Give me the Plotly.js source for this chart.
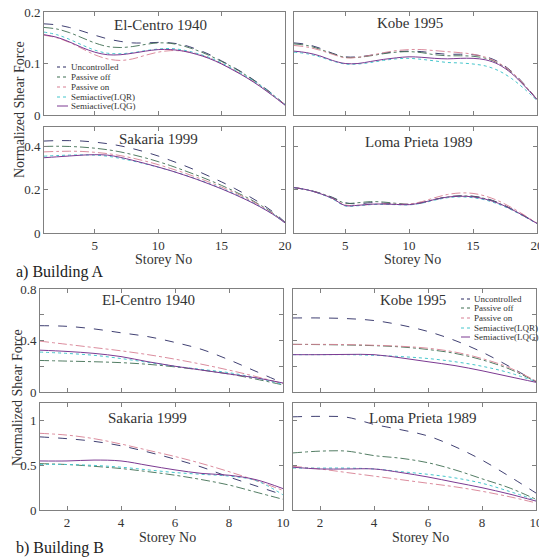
<!DOCTYPE html>
<html><head><meta charset="utf-8">
<script src="https://cdn.plot.ly/plotly-3.0.1.min.js"></script>
<style>html,body{margin:0;padding:0;background:#fff}#chart{width:539px;height:557px}</style>
</head><body><div id="chart"></div><script>
// ---------- data ----------
const seriesNames = ['Uncontrolled','Passive off','Passive on','Semiactive(LQR)','Semiactive(LQG)'];
const storeysA = [1,2,3,4,5,6,7,8,9,10,11,12,13,14,15,16,17,18,19,20];
const storeysB = [1,2,3,4,5,6,7,8,9,10];
const xTicksA = [5,10,15,20];
const xTicksB = [2,4,6,8,10];
const panelTitles = ['El-Centro 1940','Kobe 1995','Sakaria 1999','Loma Prieta 1989'];

// Building A (20 storeys) - order: Uncontrolled, Passive off, Passive on, LQR, LQG
const aElCentroUnc  = [0.177,0.175,0.170,0.163,0.155,0.148,0.143,0.140,0.140,0.141,0.140,0.136,0.128,0.118,0.105,0.092,0.077,0.060,0.041,0.020];
const aElCentroPoff = [0.170,0.167,0.160,0.150,0.140,0.133,0.131,0.133,0.137,0.140,0.139,0.134,0.126,0.116,0.104,0.091,0.076,0.059,0.040,0.020];
const aElCentroPon  = [0.155,0.150,0.141,0.129,0.117,0.109,0.106,0.109,0.116,0.122,0.125,0.124,0.119,0.111,0.100,0.087,0.073,0.057,0.039,0.020];
const aElCentroLQR  = [0.161,0.156,0.147,0.136,0.126,0.120,0.119,0.121,0.125,0.128,0.129,0.126,0.120,0.112,0.101,0.088,0.074,0.058,0.040,0.020];
const aElCentroLQG  = [0.156,0.151,0.142,0.131,0.122,0.117,0.117,0.120,0.124,0.127,0.127,0.124,0.118,0.110,0.099,0.086,0.072,0.056,0.038,0.019];

const aKobeUnc  = [0.140,0.137,0.130,0.120,0.113,0.113,0.116,0.120,0.123,0.124,0.123,0.120,0.118,0.118,0.117,0.113,0.103,0.085,0.060,0.030];
const aKobePoff = [0.138,0.135,0.128,0.119,0.112,0.112,0.115,0.119,0.122,0.123,0.121,0.117,0.115,0.115,0.114,0.110,0.100,0.083,0.058,0.030];
const aKobePon  = [0.135,0.132,0.126,0.118,0.111,0.112,0.116,0.121,0.125,0.127,0.127,0.125,0.123,0.121,0.118,0.112,0.101,0.084,0.059,0.030];
const aKobeLQR  = [0.122,0.119,0.113,0.105,0.099,0.099,0.102,0.106,0.109,0.110,0.108,0.105,0.102,0.101,0.099,0.095,0.086,0.071,0.051,0.028];
const aKobeLQG  = [0.124,0.121,0.115,0.106,0.100,0.100,0.104,0.108,0.111,0.113,0.112,0.110,0.109,0.110,0.110,0.107,0.098,0.081,0.057,0.030];

const aSakariaUnc  = [0.425,0.427,0.427,0.425,0.420,0.413,0.403,0.390,0.374,0.356,0.335,0.313,0.289,0.263,0.236,0.207,0.175,0.140,0.100,0.050];
const aSakariaPoff = [0.400,0.401,0.400,0.397,0.392,0.385,0.375,0.362,0.347,0.330,0.311,0.290,0.268,0.245,0.220,0.193,0.164,0.131,0.094,0.048];
const aSakariaPon  = [0.375,0.377,0.378,0.377,0.373,0.367,0.358,0.346,0.332,0.316,0.298,0.279,0.258,0.236,0.212,0.187,0.159,0.128,0.092,0.048];
const aSakariaLQR  = [0.355,0.358,0.360,0.361,0.360,0.355,0.345,0.333,0.319,0.304,0.288,0.270,0.250,0.229,0.206,0.181,0.154,0.124,0.090,0.047];
const aSakariaLQG  = [0.348,0.352,0.356,0.360,0.362,0.360,0.350,0.336,0.321,0.305,0.288,0.269,0.249,0.227,0.204,0.179,0.152,0.122,0.088,0.047];

const aLomaUnc  = [0.210,0.200,0.185,0.165,0.140,0.135,0.140,0.138,0.135,0.133,0.140,0.155,0.167,0.172,0.170,0.160,0.140,0.112,0.080,0.045];
const aLomaPoff = [0.210,0.200,0.185,0.163,0.138,0.140,0.145,0.143,0.137,0.132,0.140,0.155,0.166,0.171,0.169,0.158,0.138,0.110,0.078,0.045];
const aLomaPon  = [0.210,0.200,0.183,0.160,0.130,0.128,0.132,0.134,0.133,0.134,0.145,0.163,0.178,0.185,0.183,0.170,0.148,0.118,0.083,0.045];
const aLomaLQR  = [0.210,0.200,0.182,0.158,0.125,0.126,0.131,0.132,0.131,0.130,0.138,0.152,0.163,0.167,0.163,0.152,0.133,0.107,0.076,0.043];
const aLomaLQG  = [0.210,0.200,0.183,0.160,0.127,0.128,0.133,0.134,0.132,0.131,0.140,0.155,0.166,0.170,0.167,0.156,0.137,0.110,0.078,0.044];

// Building B (10 storeys)
const bElCentroUnc  = [0.515,0.510,0.490,0.460,0.430,0.385,0.330,0.250,0.160,0.070];
const bElCentroPoff = [0.245,0.240,0.235,0.228,0.215,0.195,0.170,0.140,0.100,0.055];
const bElCentroPon  = [0.395,0.370,0.345,0.320,0.290,0.255,0.215,0.170,0.120,0.065];
const bElCentroLQR  = [0.310,0.300,0.285,0.260,0.230,0.200,0.175,0.150,0.110,0.060];
const bElCentroLQG  = [0.325,0.315,0.300,0.275,0.235,0.200,0.170,0.140,0.110,0.070];

const bKobeUnc  = [0.575,0.575,0.570,0.555,0.520,0.470,0.400,0.310,0.200,0.080];
const bKobePoff = [0.370,0.368,0.365,0.360,0.350,0.330,0.300,0.250,0.180,0.080];
const bKobePon  = [0.370,0.370,0.368,0.363,0.355,0.340,0.310,0.260,0.190,0.085];
const bKobeLQR  = [0.290,0.290,0.290,0.285,0.275,0.260,0.235,0.200,0.150,0.080];
const bKobeLQG  = [0.290,0.290,0.292,0.290,0.265,0.235,0.205,0.165,0.120,0.075];

const bSakariaUnc  = [0.820,0.800,0.770,0.720,0.650,0.570,0.480,0.370,0.270,0.170];
const bSakariaPoff = [0.520,0.510,0.490,0.465,0.430,0.390,0.340,0.280,0.200,0.120];
const bSakariaPon  = [0.860,0.840,0.800,0.740,0.670,0.600,0.520,0.430,0.330,0.220];
const bSakariaLQR  = [0.510,0.510,0.500,0.480,0.450,0.420,0.400,0.380,0.330,0.170];
const bSakariaLQG  = [0.550,0.550,0.560,0.550,0.500,0.450,0.410,0.390,0.340,0.240];

const bLomaUnc  = [1.045,1.050,1.040,0.960,0.900,0.830,0.710,0.560,0.380,0.190];
const bLomaPoff = [0.640,0.660,0.660,0.610,0.580,0.530,0.450,0.350,0.250,0.120];
const bLomaPon  = [0.490,0.460,0.420,0.380,0.340,0.300,0.260,0.210,0.150,0.080];
const bLomaLQR  = [0.470,0.470,0.470,0.460,0.430,0.400,0.360,0.300,0.210,0.110];
const bLomaLQG  = [0.480,0.460,0.460,0.460,0.420,0.370,0.310,0.250,0.180,0.100];

// ---------- styling ----------
const W = 539, H = 557;
const PX = p => p / W;
const PY = p => 1 - p / H;
const SERIF = 'Liberation Serif';
const styles = [
  {color:'#2a2a62', dash:'dash',    width:0.9},
  {color:'#3f6e52', dash:'dashdot', width:0.9},
  {color:'#d77f92', dash:'dashdot', width:0.9},
  {color:'#45c6cc', dash:'dot',     width:1},
  {color:'#7c3a92', dash:'solid',   width:1}
];

const panels = [
  {ax:'', data:[aElCentroUnc,aElCentroPoff,aElCentroPon,aElCentroLQR,aElCentroLQG], x:storeysA, title:panelTitles[0], tx:160, ty:25},
  {ax:'2',data:[aKobeUnc,aKobePoff,aKobePon,aKobeLQR,aKobeLQG], x:storeysA, title:panelTitles[1], tx:410, ty:23},
  {ax:'3',data:[aSakariaUnc,aSakariaPoff,aSakariaPon,aSakariaLQR,aSakariaLQG], x:storeysA, title:panelTitles[2], tx:158, ty:139},
  {ax:'4',data:[aLomaUnc,aLomaPoff,aLomaPon,aLomaLQR,aLomaLQG], x:storeysA, title:panelTitles[3], tx:418, ty:142},
  {ax:'5',data:[bElCentroUnc,bElCentroPoff,bElCentroPon,bElCentroLQR,bElCentroLQG], x:storeysB, title:panelTitles[0], tx:148, ty:300},
  {ax:'6',data:[bKobeUnc,bKobePoff,bKobePon,bKobeLQR,bKobeLQG], x:storeysB, title:panelTitles[1], tx:413, ty:300},
  {ax:'7',data:[bSakariaUnc,bSakariaPoff,bSakariaPon,bSakariaLQR,bSakariaLQG], x:storeysB, title:panelTitles[2], tx:147, ty:418},
  {ax:'8',data:[bLomaUnc,bLomaPoff,bLomaPon,bLomaLQR,bLomaLQG], x:storeysB, title:panelTitles[3], tx:422, ty:418}
];

const traces = [];
panels.forEach(p => {
  p.data.forEach((ys, i) => {
    traces.push({
      type:'scatter', mode:'lines', x:p.x, y:ys, name:seriesNames[i],
      xaxis:'x'+p.ax, yaxis:'y'+p.ax, showlegend:false,
      line:{color:styles[i].color, dash:styles[i].dash, width:styles[i].width, shape:'spline', smoothing:1}
    });
  });
});

const baseAxis = {
  showline:true, linecolor:'#808080', linewidth:1, mirror:'ticks',
  ticks:'inside', ticklen:4, tickcolor:'#808080', tickwidth:1,
  showgrid:false, zeroline:false, fixedrange:true, ticklabeloverflow:'allow',
  tickfont:{family:SERIF, size:13, color:'#333'}
};
const colsA = [[44,285],[294,537]], colsB = [[40,283],[293,536]];
const rowsA = [[12,115],[127,233]], rowsB = [[289,392],[403,510]];
const yRanges = [[0,0.2],[0,0.49],[0,0.8],[0,1.2]];
const yTicks = [
  {v:[0,0.1,0.2], t:['0','0.1','0.2']},
  {v:[0,0.2,0.4], t:['0','0.2','0.4']},
  {v:[0,0.2,0.4,0.6,0.8], t:['0','','0.4','','0.8']},
  {v:[0,0.5,1], t:['0','0.5','1']}
];

const layout = {
  width:W, height:H, margin:{l:0,r:0,t:0,b:0},
  paper_bgcolor:'#fff', plot_bgcolor:'#fff', showlegend:false,
  font:{family:SERIF, color:'#333'},
  annotations:[], shapes:[]
};

panels.forEach((p, k) => {
  const group = k < 4 ? 0 : 1;
  const col = k % 2, row = Math.floor((k % 4) / 2);
  const cols = group ? colsB : colsA, rows = group ? rowsB : rowsA;
  const yr = group*2 + row;
  const xName = 'xaxis' + p.ax, yName = 'yaxis' + p.ax;
  layout[xName] = Object.assign({}, baseAxis, {
    domain:[PX(cols[col][0]), PX(cols[col][1])],
    range: group ? [1,10] : [1,20],
    tickvals: group ? xTicksB : xTicksA,
    showticklabels: row === 1,
    anchor:'y'+p.ax
  });
  layout[yName] = Object.assign({}, baseAxis, {
    domain:[PY(rows[row][1]), PY(rows[row][0])],
    range: yRanges[yr],
    tickvals: yTicks[yr].v, ticktext: yTicks[yr].t,
    showticklabels: col === 0,
    anchor:'x'+p.ax
  });
  layout.annotations.push({
    text:p.title, x:PX(p.tx), y:PY(p.ty), xref:'paper', yref:'paper',
    showarrow:false, xanchor:'center', yanchor:'middle',
    font:{family:SERIF, size:15, color:'#333'}
  });
});

// axis titles & group labels
const txt = (t, x, y, opts) => layout.annotations.push(Object.assign({
  text:t, x:PX(x), y:PY(y), xref:'paper', yref:'paper', showarrow:false,
  xanchor:'center', yanchor:'middle', font:{family:SERIF, size:14, color:'#333'}
}, opts||{}));
txt('Storey No', 163, 259);
txt('Storey No', 412, 259);
txt('Storey No', 167, 537);
txt('Storey No', 420, 537);
txt('Normalized Shear Force', 19, 110, {textangle:-90});
txt('Normalized Shear Force', 17, 398, {textangle:-90});
txt('a) Building A', 14, 272, {xanchor:'left', font:{family:SERIF, size:16, color:'#222'}});
txt('b) Building B', 14, 548, {xanchor:'left', font:{family:SERIF, size:16, color:'#222'}});

// legends (one per building)
const legends = [
  {x0:57, x1:68, tx:69, ys:[67,77,87,97,106]},
  {x0:461, x1:470, tx:472, ys:[299,308,318,328,337]}
];
legends.forEach(lg => {
  seriesNames.forEach((n, i) => {
    layout.shapes.push({type:'line', xref:'paper', yref:'paper',
      x0:PX(lg.x0), x1:PX(lg.x1), y0:PY(lg.ys[i]), y1:PY(lg.ys[i]),
      line:{color:styles[i].color, width:1, dash: styles[i].dash === 'solid' ? 'solid' : 'dot'}});
    layout.annotations.push({text:n, x:PX(lg.tx), y:PY(lg.ys[i]), xref:'paper', yref:'paper',
      showarrow:false, xanchor:'left', yanchor:'middle',
      font:{family:SERIF, size:9, color:'#333'}});
  });
});

Plotly.newPlot('chart', traces, layout, {staticPlot:true, displayModeBar:false});
</script></body></html>
